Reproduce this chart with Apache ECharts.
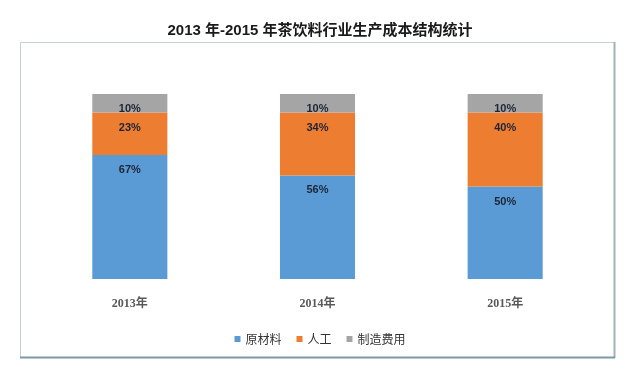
<!DOCTYPE html>
<html>
<head>
<meta charset="utf-8">
<script src="https://cdn.jsdelivr.net/npm/echarts@6/dist/echarts.min.js"></script>
<style>
html,body{margin:0;padding:0;background:#fff;}
#main{width:640px;height:373px;}
</style>
</head>
<body>
<div id="main"></div>
<script>
var categories = ['2013年', '2014年', '2015年'];
var seriesNames = ['原材料', '人工', '制造费用'];
var rawMaterial = [67, 56, 50];
var labor = [23, 34, 40];
var manufacturing = [10, 10, 10];
var colors = ['#5b9bd5', '#ed7d31', '#a5a5a5'];

var chart = echarts.init(document.getElementById('main'));
var labelCfg = {
  show: true,
  position: ['50%', 15],
  align: 'center',
  verticalAlign: 'middle',
  formatter: '{c}%',
  color: '#1c2536',
  fontSize: 11,
  fontWeight: 'bold',
  fontFamily: 'Liberation Sans, Arial, sans-serif'
};
function mk(name, data, color) {
  return {
    name: name,
    type: 'bar',
    stack: 'total',
    data: data,
    barWidth: '40%',
    itemStyle: { color: color },
    label: labelCfg,
    emphasis: { disabled: true }
  };
}
chart.setOption({
  animation: false,
  title: {
    text: '2013 年-2015 年茶饮料行业生产成本结构统计',
    left: 'center',
    top: 17,
    textStyle: {
      fontSize: 15,
      fontWeight: 'bold',
      color: '#1a1a1a',
      lineHeight: 17,
      fontFamily: 'Liberation Sans, "Noto Sans CJK SC", sans-serif'
    }
  },
  graphic: [
    { type: 'rect', shape: { x: 20.5, y: 42.5, width: 594, height: 315 },
      style: { fill: 'none', stroke: '#c4d0d6', lineWidth: 1 }, silent: true },
    { type: 'line', shape: { x1: 614.5, y1: 42, x2: 614.5, y2: 358 },
      style: { stroke: '#a3b1b8', lineWidth: 2 }, silent: true },
    { type: 'line', shape: { x1: 20, y1: 357.5, x2: 615, y2: 357.5 },
      style: { stroke: '#7d98a7', lineWidth: 2 }, silent: true }
  ],
  legend: {
    data: seriesNames,
    left: 'center',
    top: 328,
    icon: 'rect',
    itemWidth: 6,
    itemHeight: 6,
    itemGap: 15,
    textStyle: {
      fontSize: 12,
      color: '#333',
      fontFamily: '"Noto Sans CJK SC", sans-serif'
    }
  },
  grid: { left: 36, right: 41, top: 94, bottom: 94, containLabel: false },
  xAxis: {
    type: 'category',
    data: categories,
    axisLine: { show: false },
    axisTick: { show: false },
    axisLabel: {
      margin: 19,
      fontSize: 12,
      fontWeight: 'bold',
      color: '#595959',
      fontFamily: 'Liberation Serif, "Noto Sans CJK SC", serif'
    }
  },
  yAxis: {
    type: 'value',
    min: 0,
    max: 100,
    show: false,
    splitLine: { show: false }
  },
  series: [
    mk(seriesNames[0], rawMaterial, colors[0]),
    mk(seriesNames[1], labor, colors[1]),
    mk(seriesNames[2], manufacturing, colors[2])
  ]
});
</script>
</body>
</html>
